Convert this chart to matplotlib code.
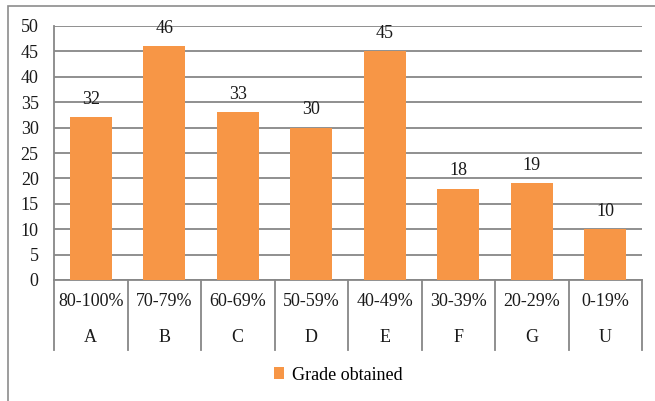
import matplotlib
matplotlib.use("Agg")
import matplotlib.pyplot as plt
from matplotlib.patches import Rectangle
import matplotlib.transforms as mtransforms

# Grade distribution data
ranges = ["80-100%", "70-79%", "60-69%", "50-59%", "40-49%", "30-39%", "20-29%", "0-19%"]
grades = ["A", "B", "C", "D", "E", "F", "G", "U"]
counts = [32, 46, 33, 30, 45, 18, 19, 10]
yticks = [0, 5, 10, 15, 20, 25, 30, 35, 40, 45, 50]

W, H = 655, 401
FS = 13
plt.rcParams["font.family"] = ["Liberation Serif", "DejaVu Serif"]
fig = plt.figure(figsize=(W / 100, H / 100), dpi=100)

# outer chart frame
fig.patches.append(Rectangle((8 / W, -0.1), 1.2, 1 - 6 / H + 0.1,
                             transform=fig.transFigure, fill=False,
                             edgecolor="#8c8c8c", linewidth=1.2))

left, right, top, bottom = 54, 642, 26, 280
ax = fig.add_axes([left / W, 1 - bottom / H, (right - left) / W, (bottom - top) / H])

bar_color = "#F79646"
grid_color = "#878787"
text_color = "#1a1a1a"

x = list(range(len(counts)))
bars = ax.bar(x, counts, width=0.57, color=bar_color, zorder=3, label="Grade obtained")

ax.set_xlim(-0.5, len(counts) - 0.5)
ax.set_ylim(0, 50)
ax.set_yticks(yticks)
ax.yaxis.grid(True, color=grid_color, linewidth=1.3, zorder=0)
ax.tick_params(axis="y", length=0, pad=11, labelsize=FS, labelcolor=text_color)
ax.set_xticks([])

for s in ["top", "right"]:
    ax.spines[s].set_visible(False)
for s in ["left", "bottom"]:
    ax.spines[s].set_color(grid_color)
    ax.spines[s].set_linewidth(1.3)

# value labels
for xi, v in zip(x, counts):
    ax.annotate(str(v), (xi, v), xytext=(0, 13), textcoords="offset points",
                ha="center", va="center", fontsize=FS, color=text_color)

# two-level category axis
trans = mtransforms.blended_transform_factory(ax.transData, ax.transAxes)
sep_bottom = (bottom - 350) / (bottom - top)
for b in [i - 0.5 for i in range(len(counts) + 1)]:
    ax.plot([b, b], [0, sep_bottom], transform=trans, color=grid_color,
            linewidth=1.3, clip_on=False)
row1 = (bottom - 302) / (bottom - top)
row2 = (bottom - 338) / (bottom - top)
for xi, r, g in zip(x, ranges, grades):
    ax.text(xi, row1, r, transform=trans, ha="center", va="center",
            fontsize=FS, color=text_color)
    ax.text(xi, row2, g, transform=trans, ha="center", va="center",
            fontsize=FS, color=text_color)

fig.legend(handles=[bars], loc="center", bbox_to_anchor=(338 / W, 1 - 375 / H),
           frameon=False, handlelength=0.6, handleheight=0.6, handletextpad=0.4,
           prop={"size": FS})

fig.savefig("out.png", dpi=100)
